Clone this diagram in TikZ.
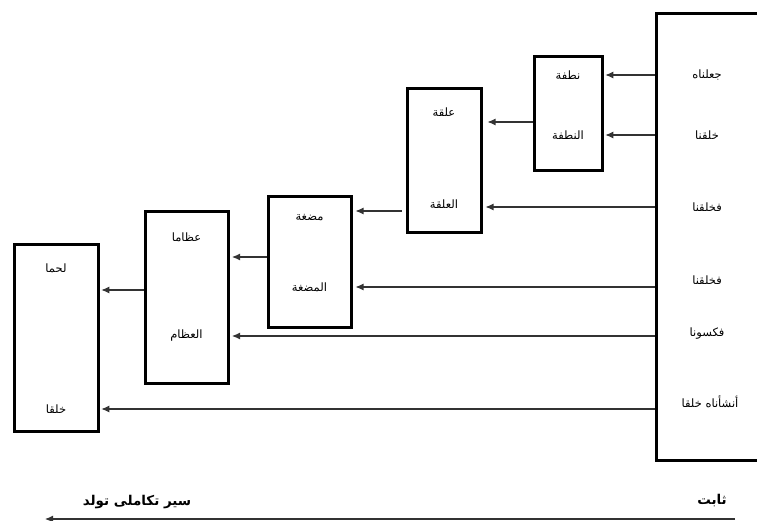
\documentclass[tikz,border=0pt]{standalone}
\usepackage{fontspec}
\usepackage{tikz}
\usetikzlibrary{arrows.meta}
\newfontfamily\arabicfont[Script=Arabic]{DejaVu Sans}
\TeXXeTstate=1

\begin{document}
\begin{tikzpicture}[x=1pt,y=-1pt,
  stage/.style={draw,line width=3pt,inner sep=0pt},
  lbl/.style={font=\arabicfont\fontsize{11.5}{13}\selectfont},
  title/.style={font=\arabicfont\bfseries\fontsize{13.5}{15}\selectfont},
  arr/.style={-{Latex[length=8pt,width=7pt]},draw=black!80,line width=1.1pt,shorten >=1.8pt}]
\clip (0,0) rectangle (757,521);

% the fixed column on the right
\node[stage,minimum width=148pt,minimum height=446pt] (big) at (730,237) {};
\node[lbl] (jalnah) at (707,75) {\beginR جعلناه\endR};
\node[lbl] (khalaqna) at (707,135) {\beginR خلقنا\endR};
\node[lbl] (fakhalaqnaA) at (707,207) {\beginR فخلقنا\endR};
\node[lbl] (fakhalaqnaB) at (707,280) {\beginR فخلقنا\endR};
\node[lbl] (fakasawna) at (707,334) {\beginR فكسونا\endR};
\node[lbl] (anshanah) at (710,402) {\beginR أنشأناه خلقا\endR};

% stages
\node[stage,minimum width=68pt,minimum height=114pt] (nutfa) at (568,114) {};
\node[lbl] (nutfaA) at (568,75) {\beginR نطفة\endR};
\node[lbl] (nutfaB) at (568,135) {\beginR النطفة\endR};

\node[stage,minimum width=74pt,minimum height=144pt] (alaqa) at (444,161) {};
\node[lbl] (alaqaA) at (444,112) {\beginR علقة\endR};
\node[lbl] (alaqaB) at (444,204) {\beginR العلقة\endR};

\node[stage,minimum width=83pt,minimum height=130pt] (mudgha) at (309.5,262) {};
\node[lbl] (mudghaA) at (309.5,218) {\beginR مضغة\endR};
\node[lbl] (mudghaB) at (309.5,287) {\beginR المضغة\endR};

\node[stage,minimum width=83pt,minimum height=171pt] (izam) at (186.5,297.5) {};
\node[lbl] (izamA) at (186.5,237) {\beginR عظاما\endR};
\node[lbl] (izamB) at (186.5,336) {\beginR العظام\endR};

\node[stage,minimum width=84pt,minimum height=186pt] (lahm) at (56,338) {};
\node[lbl] (lahmA) at (56,268) {\beginR لحما\endR};
\node[lbl] (lahmB) at (56,409) {\beginR خلقا\endR};

% connectors
\draw[arr] (big.west |- jalnah) -- (nutfa.east |- jalnah);
\draw[arr] (big.west |- khalaqna) -- (nutfa.east |- khalaqna);
\draw[arr,shorten >=5pt] (nutfa.west |- 0,122) -- (alaqa.east |- 0,122);
\draw[arr,shorten >=3pt] (big.west |- fakhalaqnaA) -- (alaqa.east |- fakhalaqnaA);
\draw[arr,shorten <=4pt,shorten >=3pt] (alaqa.west |- 0,211) -- (mudgha.east |- 0,211);
\draw[arr,shorten >=3pt] (big.west |- mudghaB) -- (mudgha.east |- mudghaB);
\draw[arr,shorten >=2.5pt] (mudgha.west |- 0,257) -- (izam.east |- 0,257);
\draw[arr,shorten >=2.5pt] (big.west |- izamB) -- (izam.east |- izamB);
\draw[arr] (izam.west |- 0,290) -- (lahm.east |- 0,290);
\draw[arr] (big.west |- lahmB) -- (lahm.east |- lahmB);

% bottom axis
\node[title] (sayr) at (137,502) {\beginR سير تكاملى تولد\endR};
\node[title] (thabit) at (712,501) {\beginR ثابت\endR};
\coordinate (axisR) at (735,519);
\coordinate (axisL) at (45,519);
\draw[arr,shorten >=0pt] (axisR) -- (axisL);
\end{tikzpicture}
\end{document}
